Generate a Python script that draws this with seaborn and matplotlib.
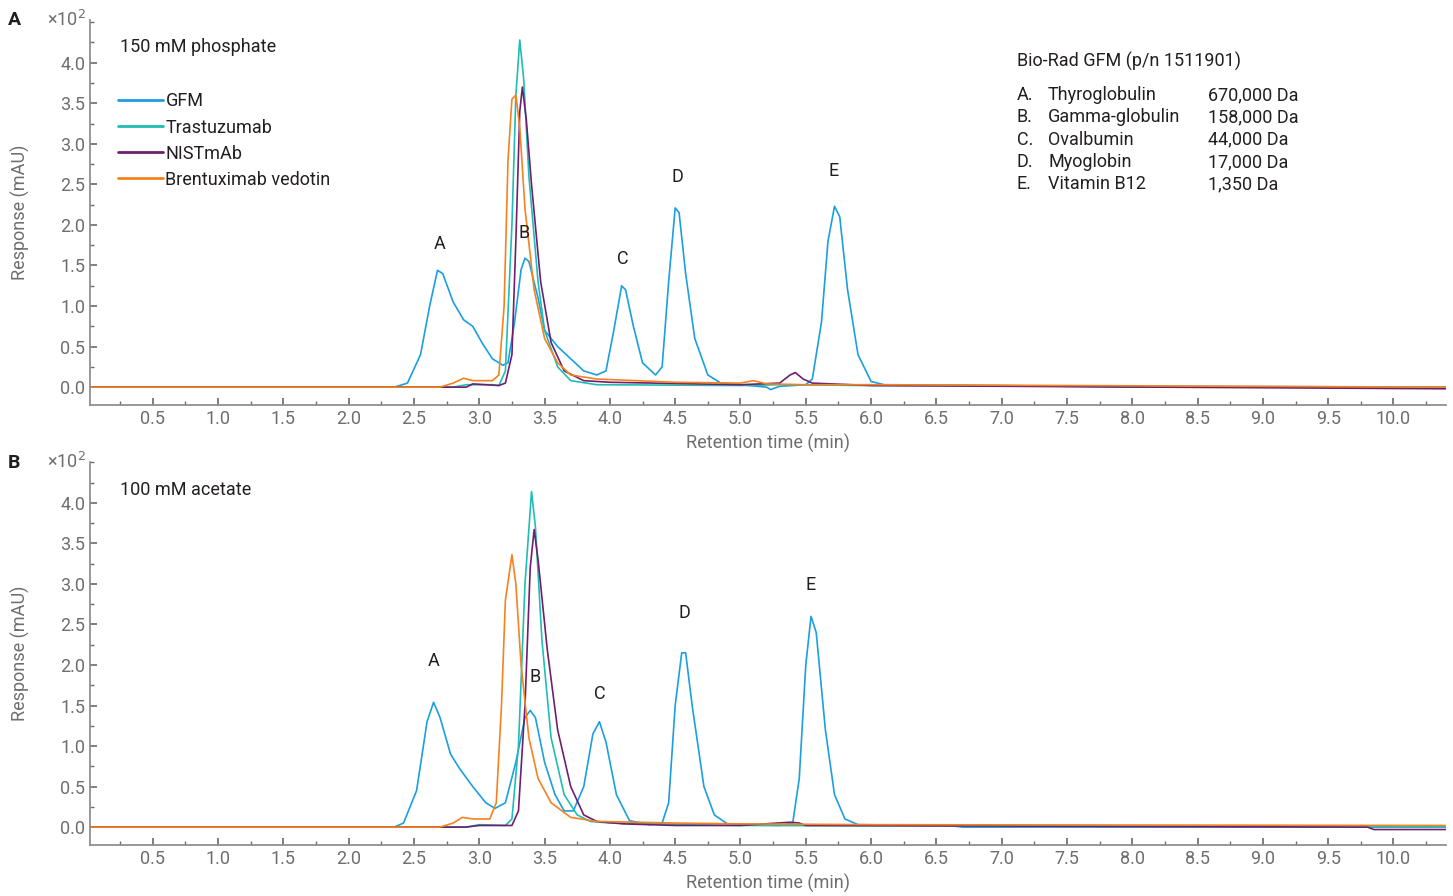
import numpy as np
import pandas as pd
import seaborn as sns
import matplotlib.pyplot as plt
from matplotlib.ticker import MultipleLocator, FixedLocator

# ----------------------------
# Data (response x10^2 mAU)
# ----------------------------
SERIES = ["GFM", "Trastuzumab", "NISTmAb", "Brentuximab vedotin"]
COLORS = ["#1a9fe0", "#1fbdb3", "#6e1f6f", "#f5821f"]

# Panel A: 150 mM phosphate
a_gfm_t = [0.02, 2.35, 2.45, 2.55, 2.62, 2.68, 2.72, 2.8, 2.88, 2.95, 3.02, 3.1, 3.18, 3.22, 3.27, 3.32, 3.35, 3.38,
           3.45, 3.5, 3.6, 3.7, 3.8, 3.9, 3.97, 4.03, 4.09, 4.12, 4.18, 4.25, 4.35, 4.4, 4.45, 4.5, 4.53, 4.58, 4.65,
           4.75, 4.85, 5.0, 5.2, 5.23, 5.3, 5.5, 5.55, 5.62, 5.67, 5.72, 5.76, 5.82, 5.9, 6.0, 6.1, 7.0, 8.0, 10.4]
a_gfm_y = [0, 0, 0.05, 0.4, 1.0, 1.44, 1.4, 1.05, 0.83, 0.75, 0.55, 0.35, 0.27, 0.3, 0.8, 1.45, 1.59, 1.55,
           1.1, 0.7, 0.5, 0.35, 0.2, 0.15, 0.2, 0.7, 1.25, 1.2, 0.75, 0.3, 0.15, 0.25, 1.3, 2.21, 2.15, 1.4, 0.6,
           0.15, 0.05, 0.03, 0.0, -0.03, 0.01, 0.03, 0.1, 0.8, 1.8, 2.23, 2.1, 1.2, 0.4, 0.07, 0.03, 0.02, 0.0, 0.0]
a_tra_t = [0.02, 2.8, 2.9, 3.1, 3.15, 3.2, 3.25, 3.28, 3.31, 3.34, 3.38, 3.45, 3.5, 3.6, 3.7, 3.9, 5.0, 5.3, 6.0, 10.4]
a_tra_y = [0, 0, 0.03, 0.03, 0.02, 0.2, 2.0, 3.6, 4.28, 3.8, 2.6, 1.3, 0.7, 0.25, 0.08, 0.03, 0.02, 0.03, 0.02, 0.0]
a_nis_t = [0.02, 2.9, 2.95, 3.05, 3.15, 3.2, 3.25, 3.28, 3.31, 3.33, 3.36, 3.4, 3.47, 3.55, 3.65, 3.8, 4.0, 5.0,
           5.3, 5.38, 5.42, 5.48, 5.55, 6.0, 10.4]
a_nis_y = [0, 0, 0.04, 0.03, 0.02, 0.05, 0.4, 1.8, 3.4, 3.7, 3.3, 2.5, 1.3, 0.55, 0.2, 0.08, 0.06, 0.03,
           0.05, 0.15, 0.18, 0.1, 0.05, 0.02, -0.02]
a_bre_t = [0.02, 2.7, 2.8, 2.88, 2.95, 3.1, 3.15, 3.19, 3.22, 3.25, 3.28, 3.31, 3.35, 3.42, 3.5, 3.6, 3.7, 3.9,
           4.2, 4.5, 5.0, 5.1, 5.2, 5.5, 6.0, 7.5, 10.4]
a_bre_y = [0, 0, 0.05, 0.11, 0.08, 0.08, 0.15, 1.0, 2.8, 3.55, 3.6, 3.2, 2.2, 1.2, 0.6, 0.3, 0.15, 0.1,
           0.08, 0.06, 0.05, 0.08, 0.04, 0.03, 0.03, 0.02, 0.0]

# Panel B: 100 mM acetate
b_gfm_t = [0.02, 2.35, 2.42, 2.52, 2.6, 2.65, 2.7, 2.78, 2.85, 2.95, 3.05, 3.12, 3.2, 3.28, 3.35, 3.39, 3.43, 3.5,
           3.58, 3.65, 3.72, 3.8, 3.87, 3.92, 3.97, 4.05, 4.15, 4.3, 4.4, 4.45, 4.5, 4.55, 4.58, 4.63, 4.72, 4.8,
           4.9, 5.3, 5.4, 5.45, 5.5, 5.54, 5.58, 5.65, 5.72, 5.8, 5.9, 6.6, 6.7, 10.4]
b_gfm_y = [0, 0, 0.05, 0.45, 1.3, 1.54, 1.35, 0.9, 0.72, 0.5, 0.3, 0.23, 0.3, 0.8, 1.35, 1.44, 1.35, 0.8,
           0.4, 0.2, 0.2, 0.5, 1.15, 1.3, 1.05, 0.4, 0.08, 0.03, 0.05, 0.3, 1.5, 2.15, 2.15, 1.5, 0.5, 0.15,
           0.04, 0.02, 0.05, 0.6, 2.0, 2.6, 2.4, 1.2, 0.4, 0.1, 0.03, 0.02, 0.0, 0.0]
b_tra_t = [0.02, 2.9, 3.0, 3.2, 3.25, 3.3, 3.35, 3.4, 3.43, 3.48, 3.55, 3.65, 3.75, 3.85, 4.0, 5.0, 10.4]
b_tra_y = [0, 0, 0.03, 0.02, 0.1, 1.0, 3.0, 4.14, 3.7, 2.3, 1.1, 0.4, 0.15, 0.07, 0.05, 0.02, 0.0]
b_nis_t = [0.02, 2.9, 3.0, 3.25, 3.3, 3.35, 3.39, 3.42, 3.45, 3.52, 3.6, 3.7, 3.8, 3.9, 4.1, 4.5, 5.0, 5.38,
           5.45, 5.5, 9.8, 9.85, 10.4]
b_nis_y = [0, 0, 0.02, 0.02, 0.2, 1.5, 3.2, 3.67, 3.3, 2.2, 1.2, 0.5, 0.15, 0.07, 0.04, 0.02, 0.02, 0.06,
           0.05, 0.02, 0.0, -0.03, -0.03]
b_bre_t = [0.02, 2.7, 2.8, 2.87, 2.95, 3.08, 3.13, 3.17, 3.2, 3.25, 3.28, 3.32, 3.38, 3.45, 3.55, 3.7, 3.9,
           4.5, 5.0, 6.0, 10.4]
b_bre_y = [0, 0, 0.05, 0.12, 0.1, 0.1, 0.3, 1.5, 2.8, 3.36, 3.0, 2.0, 1.1, 0.6, 0.3, 0.12, 0.07,
           0.05, 0.04, 0.03, 0.02]

# peak letters and their label heights
PEAKS = ["A", "B", "C", "D", "E"]
a_peak_t = [2.70, 3.34, 4.10, 4.52, 5.71]
a_peak_y = [1.65, 1.79, 1.47, 2.48, 2.56]
b_peak_t = [2.65, 3.43, 3.92, 4.57, 5.54]
b_peak_y = [1.94, 1.74, 1.53, 2.53, 2.88]

STANDARDS = ["Thyroglobulin", "Gamma-globulin", "Ovalbumin", "Myoglobin", "Vitamin B12"]
MASSES = ["670,000 Da", "158,000 Da", "44,000 Da", "17,000 Da", "1,350 Da"]


def long_df(pairs):
    frames = []
    for name, (t, y) in zip(SERIES, pairs):
        frames.append(pd.DataFrame({"t": t, "y": y, "series": name}))
    return pd.concat(frames, ignore_index=True)


df_a = long_df([(a_gfm_t, a_gfm_y), (a_tra_t, a_tra_y), (a_nis_t, a_nis_y), (a_bre_t, a_bre_y)])
df_b = long_df([(b_gfm_t, b_gfm_y), (b_tra_t, b_tra_y), (b_nis_t, b_nis_y), (b_bre_t, b_bre_y)])

# ----------------------------
# Plot
# ----------------------------
sns.set_theme(style="white")
plt.rcParams["font.family"] = ["Roboto", "DejaVu Sans"]
GREY = "#6d6e71"
INK = "#231f20"
FS = 13

fig = plt.figure(figsize=(14.53, 8.96), dpi=100)
ax_a = fig.add_axes([0.062, 0.548, 0.933, 0.430])
ax_b = fig.add_axes([0.062, 0.057, 0.933, 0.427])

for ax, df, pt, py, top in [(ax_a, df_a, a_peak_t, a_peak_y, 4.53), (ax_b, df_b, b_peak_t, b_peak_y, 4.5)]:
    sns.lineplot(data=df, x="t", y="y", hue="series", hue_order=SERIES, palette=COLORS,
                 estimator=None, sort=False, linewidth=1.2, ax=ax, legend=(ax is ax_a))
    ax.set_xlim(0.02, 10.4)
    ax.set_ylim(-0.22, top)
    ax.xaxis.set_minor_locator(MultipleLocator(0.25))
    ax.yaxis.set_major_locator(FixedLocator([v / 2 for v in range(9)]))
    ax.yaxis.set_minor_locator(FixedLocator([v / 4 for v in range(-0, 19)]))
    ax.set_yticklabels([f"{v / 2:.1f}" for v in range(9)])
    ax.set_xticks([v / 2 for v in range(1, 21)])
    ax.set_xticklabels([f"{v / 2:.1f}" for v in range(1, 21)])
    ax.tick_params(which="both", direction="in", colors=GREY, labelsize=FS, bottom=True, left=True)
    ax.tick_params(which="major", length=5)
    ax.tick_params(which="minor", length=3)
    for s in ["top", "right"]:
        ax.spines[s].set_visible(False)
    for s in ["left", "bottom"]:
        ax.spines[s].set_color("#8a8b8d")
    ax.set_xlabel("Retention time (min)", color=GREY, fontsize=FS, labelpad=4)
    ax.set_ylabel("Response (mAU)", color=GREY, fontsize=FS, labelpad=22)
    ax.text(-0.003, 1.0, "×10$^2$", transform=ax.transAxes, ha="right", va="center", color=GREY, fontsize=FS)
    for lab, x, y in zip(PEAKS, pt, py):
        ax.text(x, y, lab, ha="center", va="bottom", fontsize=FS, color=INK)

ax_a.text(0.022, 0.915, "150 mM phosphate", transform=ax_a.transAxes, fontsize=FS, color=INK)
ax_b.text(0.022, 0.915, "100 mM acetate", transform=ax_b.transAxes, fontsize=FS, color=INK)
leg = ax_a.legend(loc="upper left", bbox_to_anchor=(0.015, 0.83), frameon=False, fontsize=FS,
                  handlelength=2.5, handletextpad=0.15, labelspacing=0.45, borderaxespad=0)
for line in leg.get_lines():
    line.set_linewidth(2)
for txt in leg.get_texts():
    txt.set_color(INK)

fig.text(8 / 1453, 1 - 20 / 896, "A", fontsize=14, fontweight="bold", va="center", color=INK)
fig.text(8 / 1453, 1 - 463 / 896, "B", fontsize=14, fontweight="bold", va="center", color=INK)

# standards table
fig.text(1017 / 1453, 1 - 61 / 896, "Bio-Rad GFM (p/n 1511901)", fontsize=FS, va="center", color=INK)
for i, (p, n, m) in enumerate(zip(PEAKS, STANDARDS, MASSES)):
    y = 1 - (95 + i * 22.3) / 896
    fig.text(1017 / 1453, y, p + ".", fontsize=FS, va="center", color=INK)
    fig.text(1048 / 1453, y, n, fontsize=FS, va="center", color=INK)
    fig.text(1208 / 1453, y, m, fontsize=FS, va="center", color=INK)

fig.savefig("out.png", dpi=100)
